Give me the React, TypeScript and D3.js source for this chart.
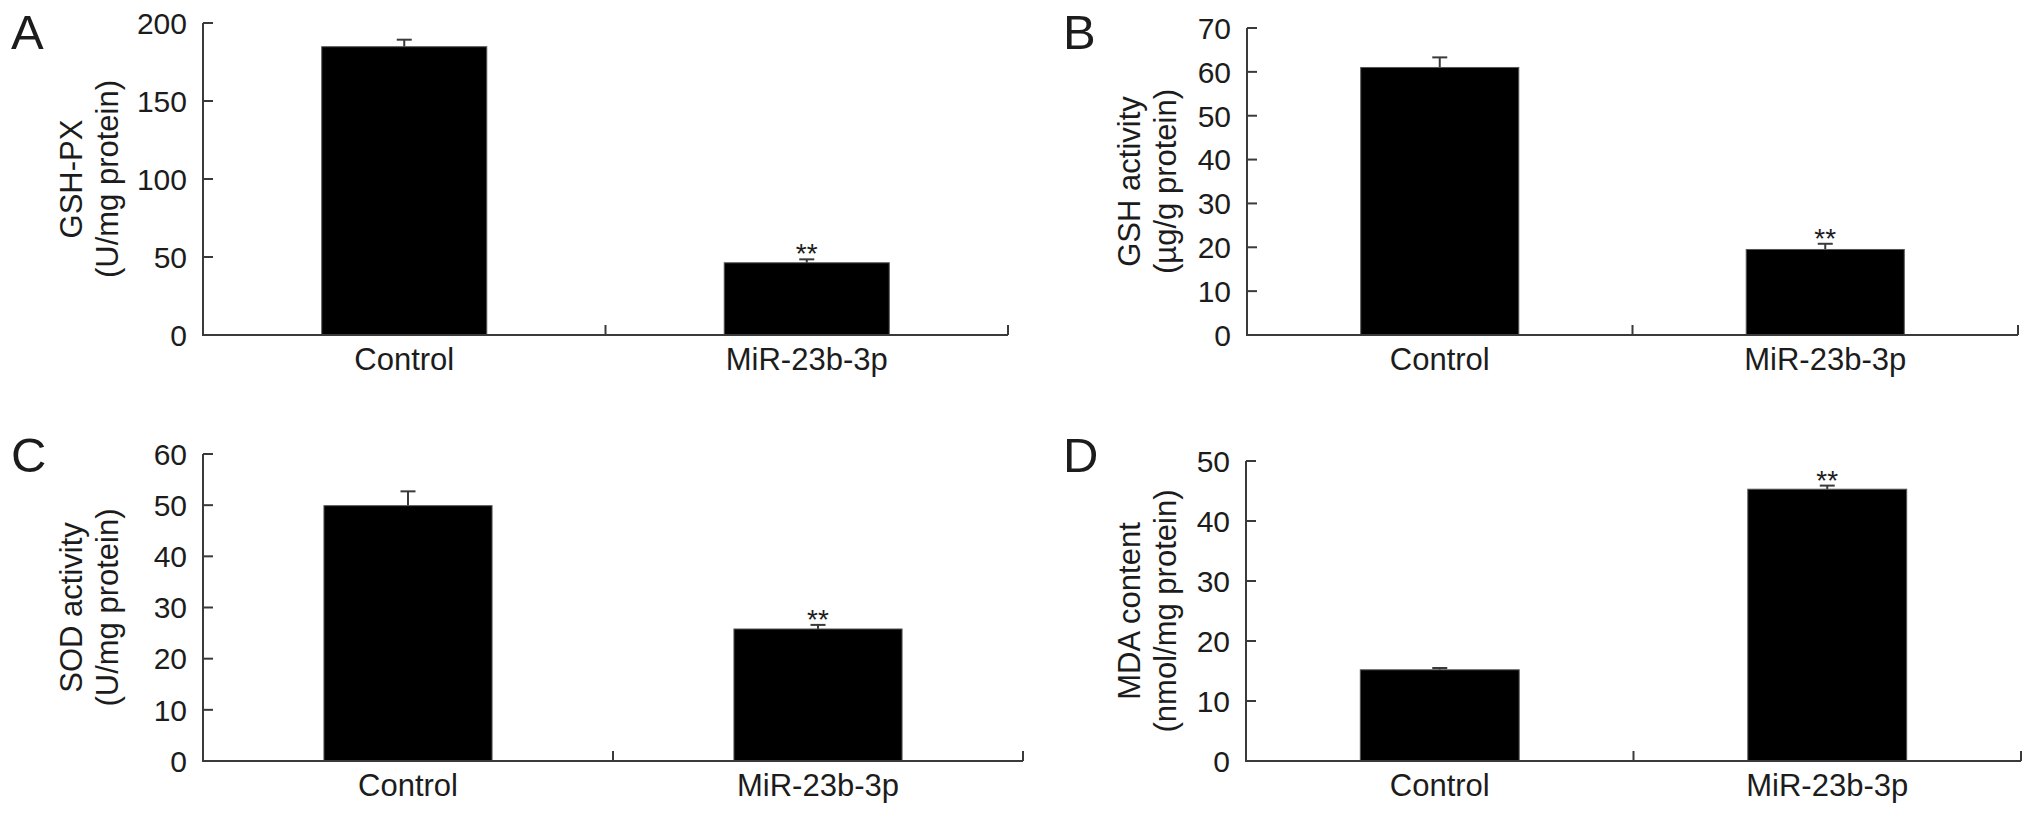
import React from "react";
import * as d3 from "d3";

const categories = ["Control", "MiR-23b-3p"];
const significance = ["", "**"];

const gshpxMean = [184.8, 46.3];
const gshpxErr = [4.5, 2.2];
const gshpxTicks = [0, 50, 100, 150, 200];

const gshMean = [61.0, 19.5];
const gshErr = [2.3, 1.3];
const gshTicks = [0, 10, 20, 30, 40, 50, 60, 70];

const sodMean = [49.9, 25.8];
const sodErr = [2.8, 0.8];
const sodTicks = [0, 10, 20, 30, 40, 50, 60];

const mdaMean = [15.2, 45.3];
const mdaErr = [0.3, 0.6];
const mdaTicks = [0, 10, 20, 30, 40, 50];

type PanelProps = {
  letter: string;
  letterX: number;
  letterY: number;
  x0: number;
  x1: number;
  yTop: number;
  yBottom: number;
  ticks: number[];
  means: number[];
  errs: number[];
  title1: string;
  title2: string;
  titleX: number;
};

const FONT = "'Liberation Sans', Arial, Helvetica, sans-serif";
const AXIS = "#3a3a3a";
const TEXT = "#1c1c1c";

function Panel(p: PanelProps) {
  const yMax = p.ticks[p.ticks.length - 1];
  const y = d3.scaleLinear().domain([0, yMax]).range([p.yBottom, p.yTop]);
  const x = d3.scaleBand<string>().domain(categories).range([p.x0, p.x1]).paddingInner(0).paddingOuter(0);
  const bw = x.bandwidth() * 0.41;
  const midY = (p.yTop + p.yBottom) / 2;
  const boundaries = categories.map((c) => (x(c) as number) + x.bandwidth());
  return (
    <g>
      <text x={p.letterX} y={p.letterY} fontSize={49} fontFamily={FONT} fill={TEXT}>
        {p.letter}
      </text>
      {/* bars */}
      {categories.map((c, i) => {
        const cx = (x(c) as number) + x.bandwidth() / 2;
        const top = y(p.means[i]);
        const et = y(p.means[i] + p.errs[i]);
        return (
          <g key={c}>
            <line x1={cx} x2={cx} y1={top} y2={et} stroke={AXIS} strokeWidth={2} />
            <line x1={cx - 7.5} x2={cx + 7.5} y1={et} y2={et} stroke={AXIS} strokeWidth={2} />
            <rect x={cx - bw / 2} y={top} width={bw} height={p.yBottom - top} fill="#000" stroke="#555" strokeWidth={1} />
            {significance[i] && (
              <text x={cx} y={et + 4} textAnchor="middle" fontSize={28} fontFamily={FONT} fill={TEXT}>
                {significance[i]}
              </text>
            )}
            <text x={cx} y={p.yBottom + 35} textAnchor="middle" fontSize={31} fontFamily={FONT} fill={TEXT}>
              {c}
            </text>
          </g>
        );
      })}
      {/* y axis */}
      <line x1={p.x0} x2={p.x0} y1={p.yTop} y2={p.yBottom} stroke={AXIS} strokeWidth={2} />
      {p.ticks.map((t) => (
        <g key={t}>
          <line x1={p.x0} x2={p.x0 + 10} y1={y(t)} y2={y(t)} stroke={AXIS} strokeWidth={2} />
          <text x={p.x0 - 16} y={y(t)} dy="0.36em" textAnchor="end" fontSize={30} fontFamily={FONT} fill={TEXT}>
            {t}
          </text>
        </g>
      ))}
      {/* x axis */}
      <line x1={p.x0 - 1} x2={p.x1} y1={p.yBottom} y2={p.yBottom} stroke={AXIS} strokeWidth={2} />
      {boundaries.map((bx, i) => (
        <line key={i} x1={bx} x2={bx} y1={p.yBottom} y2={p.yBottom - 10} stroke={AXIS} strokeWidth={2} />
      ))}
      {/* y title */}
      <g transform={`translate(${p.titleX},${midY}) rotate(-90)`}>
        <text x={0} y={0} textAnchor="middle" fontSize={31} fontFamily={FONT} fill={TEXT}>
          {p.title1}
        </text>
        <text x={0} y={36} textAnchor="middle" fontSize={31} fontFamily={FONT} fill={TEXT}>
          {p.title2}
        </text>
      </g>
    </g>
  );
}

export default function App() {
  return (
    <svg
      width={2032}
      height={816}
      viewBox="0 0 2032 816"
      style={{ position: "absolute", left: 0, top: 0, background: "#fff" }}
    >
      <rect x={0} y={0} width={2032} height={816} fill="#fff" />
      <Panel
        letter="A"
        letterX={11}
        letterY={49}
        x0={203}
        x1={1008}
        yTop={23}
        yBottom={335}
        ticks={gshpxTicks}
        means={gshpxMean}
        errs={gshpxErr}
        title1="GSH-PX"
        title2="(U/mg protein)"
        titleX={82}
      />
      <Panel
        letter="B"
        letterX={1063}
        letterY={49}
        x0={1247}
        x1={2018}
        yTop={28}
        yBottom={335}
        ticks={gshTicks}
        means={gshMean}
        errs={gshErr}
        title1="GSH activity"
        title2="(µg/g protein)"
        titleX={1140}
      />
      <Panel
        letter="C"
        letterX={11}
        letterY={472}
        x0={203}
        x1={1023}
        yTop={454}
        yBottom={761}
        ticks={sodTicks}
        means={sodMean}
        errs={sodErr}
        title1="SOD activity"
        title2="(U/mg protein)"
        titleX={82}
      />
      <Panel
        letter="D"
        letterX={1063}
        letterY={472}
        x0={1246}
        x1={2021}
        yTop={461}
        yBottom={761}
        ticks={mdaTicks}
        means={mdaMean}
        errs={mdaErr}
        title1="MDA content"
        title2="(nmol/mg protein)"
        titleX={1140}
      />
    </svg>
  );
}
